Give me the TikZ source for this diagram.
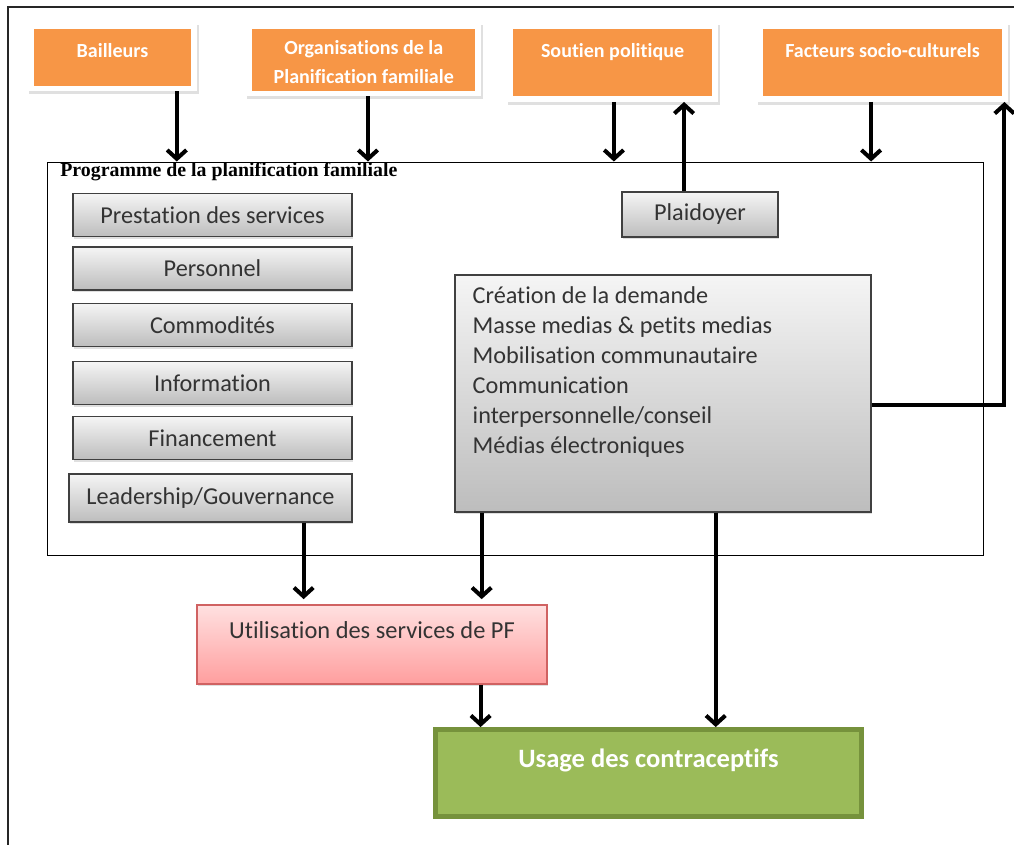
\documentclass[tikz,border=0pt]{standalone}
\usepackage{fontspec}
\setmainfont{Carlito}[Ligatures=NoCommon]
\newfontfamily\titlefont{Liberation Serif}
\usetikzlibrary{arrows.meta,shadows}
\definecolor{pforange}{HTML}{F79646}
\definecolor{pfgreen}{HTML}{9BBB59}
\definecolor{pfgreendark}{HTML}{76923C}
\definecolor{pfred}{HTML}{D06262}
\definecolor{pftext}{HTML}{333333}

\begin{document}
\begin{tikzpicture}[x=0.02cm,y=-0.02cm]
	\tikzset{arr/.style={line width=2.3pt,-{Straight Barb[length=5pt,width=11pt]}}}
	\tikzset{actor/.style={fill=pforange,draw=white,line width=3.4pt,inner sep=0pt,
		preaction={draw=black!12,line width=4.2pt,transform canvas={xshift=0.7pt,yshift=-1.2pt}}}}
	\tikzset{actortxt/.style={anchor=north,inner sep=0pt,yshift=-11pt,text=white,align=center,
		font=\bfseries\fontsize{11.4}{16.4}\selectfont}}
	\tikzset{grey box/.style={draw=black!75,line width=0.7pt,top color=black!4,bottom color=black!26,
		inner sep=0pt,text=pftext,font=\fontsize{13.8}{17}\selectfont,
		drop shadow={opacity=0.25,shadow xshift=0.8pt,shadow yshift=-1.2pt}}}
	\useasboundingbox (0,0) rectangle (1014,845);
	\draw[line width=0.9pt,black!85] (8,845) -- (8,7) -- (1014,7);
	% acteurs externes
	\node[actor,minimum width=3.26cm,minimum height=1.24cm,label={[actortxt]north:Bailleurs}] (bail) at (112.5,57.5) {};
	\node[actor,minimum width=4.59cm,minimum height=1.34cm,
		label={[actortxt,yshift=1.5pt]north:Organisations de la\\Planification familiale}] (org) at (363.75,60) {};
	\node[actor,minimum width=4.10cm,minimum height=1.45cm,label={[actortxt]north:Soutien politique}] (sout) at (612.5,62.75) {};
	\node[actor,minimum width=4.90cm,minimum height=1.45cm,label={[actortxt]north:Facteurs socio-culturels}] (fact) at (882.5,62.75) {};
	% programme
	\node[draw,line width=0.6pt,minimum width=18.74cm,minimum height=7.88cm] (prog) at (515.5,359) {};
	\node[anchor=west,inner sep=0pt,font=\titlefont\bfseries\fontsize{11.3}{12}\selectfont] (progtitle) at (60,172) {Programme de la planification familiale};
	\foreach \n/\y/\t in {prest/215/Prestation des services,pers/268.5/Personnel,comm/325/Commodités,info/383/Information,fin/438/Financement}
		\node[grey box,minimum width=5.58cm,minimum height=0.86cm] (\n) at (212.5,\y) {\t};
	\node[grey box,minimum width=5.66cm,minimum height=0.96cm] (lead) at (210.5,498) {Leadership/Gouvernance};
	\node[grey box,minimum width=3.12cm,minimum height=0.90cm] (plaid) at (700,214.5) {Plaidoyer};
	\node[grey box,minimum width=8.32cm,minimum height=4.74cm,
		label={[anchor=north west,inner sep=0pt,xshift=10.2pt,yshift=-7pt,align=left,text=pftext,font=\fontsize{13.8}{17}\selectfont]north west:Création de la demande\\Masse medias \& petits medias\\Mobilisation communautaire\\Communication\\interpersonnelle/conseil\\Médias électroniques}] (creation) at (663,393.5) {};
	% resultats
	\node[draw=pfred,line width=0.7pt,top color=red!12,bottom color=red!38,minimum width=7.0cm,minimum height=1.58cm,
		drop shadow={opacity=0.25,shadow xshift=0.8pt,shadow yshift=-1.2pt},
		label={[anchor=north,inner sep=0pt,yshift=-9.5pt,text=pftext,font=\fontsize{13.9}{17}\selectfont]north:Utilisation des services de PF}] (util) at (372,644.5) {};
	\node[draw=pfgreendark,fill=pfgreen,line width=2.8pt,minimum width=8.52cm,minimum height=1.74cm,
		label={[anchor=north,inner sep=0pt,yshift=-12pt,text=white,font=\bfseries\fontsize{15.1}{17}\selectfont]north:Usage des contraceptifs}] (usage) at (648.5,773) {};
	% fleches
	\draw[arr] ([xshift=36.6pt]bail.south) -- ([xshift=36.6pt]bail.south |- prog.north);
	\draw[arr] ([xshift=2.4pt]org.south) -- ([xshift=2.4pt]org.south |- prog.north);
	\draw[arr] ([xshift=0.8pt]sout.south) -- ([xshift=0.8pt]sout.south |- prog.north);
	\draw[arr] ([xshift=-9.1pt]plaid.north) -- ([xshift=-9.1pt]plaid.north |- sout.south);
	\draw[arr] ([xshift=-6.5pt]fact.south) -- ([xshift=-6.5pt]fact.south |- prog.north);
	\draw[arr] ([yshift=-6.5pt]creation.east) -| ([xshift=-2pt]fact.south east);
	\draw[arr,shorten >=3pt] ([xshift=53pt]lead.south) -- ([xshift=53pt]lead.south |- util.north);
	\draw[arr,shorten >=3pt] ([xshift=-103.2pt]creation.south) -- ([xshift=-103.2pt]creation.south |- util.north);
	\draw[arr] ([xshift=30pt]creation.south) -- ([xshift=30pt]creation.south |- usage.north);
	\draw[arr] ([xshift=61.8pt]util.south) -- ([xshift=61.8pt]util.south |- usage.north);
\end{tikzpicture}
\end{document}
